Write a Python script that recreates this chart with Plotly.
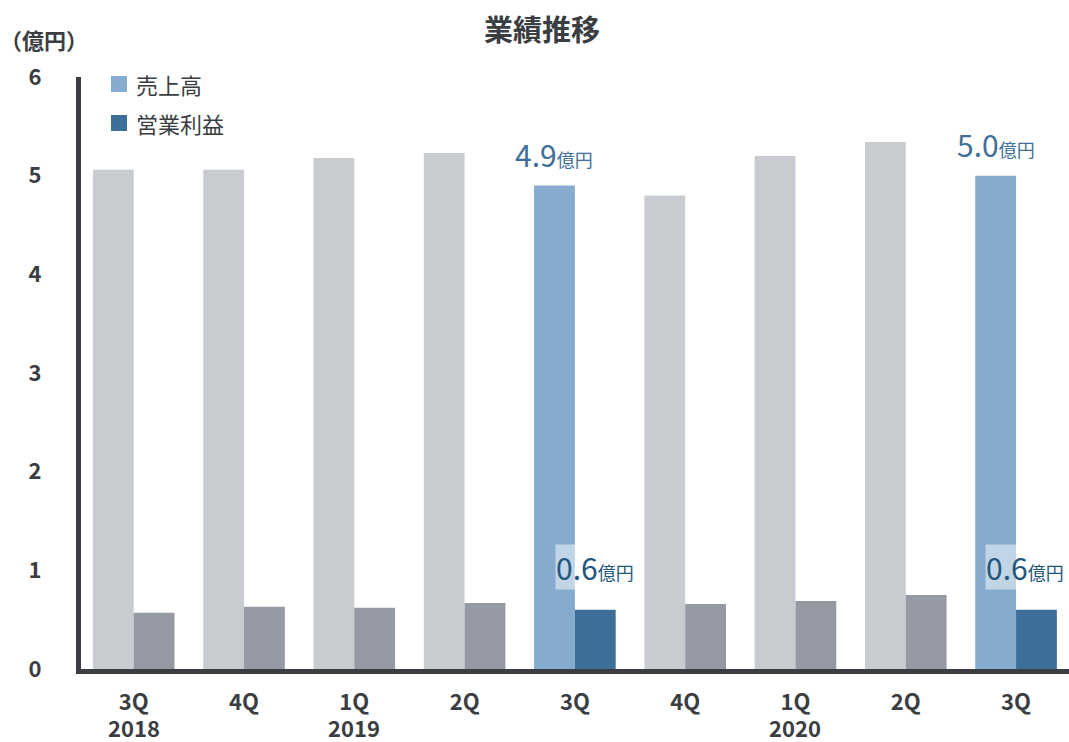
import plotly.graph_objects as go

# Quarterly results (units: 100 million yen)
quarters = ["3Q", "4Q", "1Q", "2Q", "3Q", "4Q", "1Q", "2Q", "3Q"]
years = ["2018", "", "2019", "", "", "", "2020", "", ""]
sales = [5.06, 5.06, 5.18, 5.23, 4.9, 4.80, 5.20, 5.34, 5.0]
op_profit = [0.57, 0.63, 0.62, 0.67, 0.6, 0.66, 0.69, 0.75, 0.6]
highlight = [False, False, False, False, True, False, False, False, True]
y_ticks = [0, 1, 2, 3, 4, 5, 6]

W, H = 1069, 742
ML, MR, MT, MB = 81, 0, 77, 73
PW, PH = W - ML - MR, H - MT - MB

INK = "#3a3d42"
GRAY_SALES, GRAY_PROFIT = "#c8cbd0", "#9599a3"
BLUE_SALES, BLUE_PROFIT = "#85abcf", "#3e6f98"
FONT = "Noto Sans CJK JP"


def px_x(x):
    return (x - ML) / PW


def px_y(y):
    return (H - MB - y) / PH


x = list(range(len(quarters)))

fig = go.Figure()
fig.add_bar(
    x=x, y=sales, name="売上高", showlegend=False,
    marker=dict(color=[BLUE_SALES if h else GRAY_SALES for h in highlight], line_width=0),
)
fig.add_bar(
    x=x, y=op_profit, name="営業利益", showlegend=False,
    marker=dict(color=[BLUE_PROFIT if h else GRAY_PROFIT for h in highlight], line_width=0),
)

annotations = []
shapes = []

# value labels on highlighted quarters
for i, h in enumerate(highlight):
    if not h:
        continue
    annotations.append(dict(
        x=i - 0.186, y=sales[i], xref="x", yref="y",
        text=f"{sales[i]:.1f}<span style='font-size:18px'>億円</span>",
        showarrow=False, yanchor="bottom", yshift=8,
        font=dict(family=FONT, size=30, color="#3f6f9a"),
    ))
    last = i == len(quarters) - 1
    annotations.append(dict(
        x=i + 0.186, y=op_profit[i], xref="x", yref="y",
        text=f"{op_profit[i]:.1f}<span style='font-size:18px'>億円</span>",
        showarrow=False, yanchor="bottom", yshift=20, xshift=-12 if last else 0,
        bgcolor="rgba(255,255,255,0.5)", borderpad=0,
        font=dict(family=FONT, size=30, color="#23587c"),
    ))

# year line under the quarter labels
for i, yr in enumerate(years):
    if yr:
        annotations.append(dict(
            x=i, y=px_y(727), xref="x", yref="paper",
            text=f"<b>{yr}</b>", showarrow=False, xanchor="center", yanchor="middle",
            font=dict(family=FONT, size=22, color=INK),
        ))

# title and unit
annotations.append(dict(
    x=px_x(542), y=px_y(28), xref="paper", yref="paper",
    text="<b>業績推移</b>", showarrow=False, xanchor="center", yanchor="middle",
    font=dict(family=FONT, size=29, color=INK),
))
annotations.append(dict(
    x=px_x(44), y=px_y(39), xref="paper", yref="paper",
    text="<b>（億円）</b>", showarrow=False, xanchor="center", yanchor="middle",
    font=dict(family=FONT, size=22, color=INK),
))

# legend
for label, color, cy in [("売上高", BLUE_SALES, 84), ("営業利益", BLUE_PROFIT, 123)]:
    shapes.append(dict(
        type="rect", xref="paper", yref="paper",
        x0=px_x(111), x1=px_x(127), y0=px_y(cy + 8), y1=px_y(cy - 8),
        fillcolor=color, line_width=0,
    ))
    annotations.append(dict(
        x=px_x(134), y=px_y(cy), xref="paper", yref="paper",
        text=label, showarrow=False, xanchor="left", yanchor="middle",
        font=dict(family=FONT, size=22, color=INK),
    ))

fig.update_layout(
    width=W, height=H,
    margin=dict(l=ML, r=MR, t=MT, b=MB, autoexpand=False),
    paper_bgcolor="white", plot_bgcolor="white",
    barmode="group", bargap=0.26, bargroupgap=0,
    font=dict(family=FONT, color=INK),
    annotations=annotations, shapes=shapes,
    showlegend=False,
)
fig.update_xaxes(
    range=[-0.478, 8.48], tickmode="array", tickvals=x, ticktext=quarters,
    showgrid=False, zeroline=False, showline=True, linewidth=5, linecolor=INK,
    ticks="", ticklabelstandoff=10, automargin=False,
    tickfont=dict(family=FONT, size=22, color=INK, weight="bold"),
)
fig.update_yaxes(
    range=[0, 6], tickmode="array", tickvals=y_ticks,
    showgrid=False, zeroline=False, showline=True, linewidth=5, linecolor=INK,
    ticks="", ticklabelstandoff=30, automargin=False,
    tickfont=dict(family=FONT, size=22, color=INK, weight="bold"),
)

fig.write_html("out.html")
